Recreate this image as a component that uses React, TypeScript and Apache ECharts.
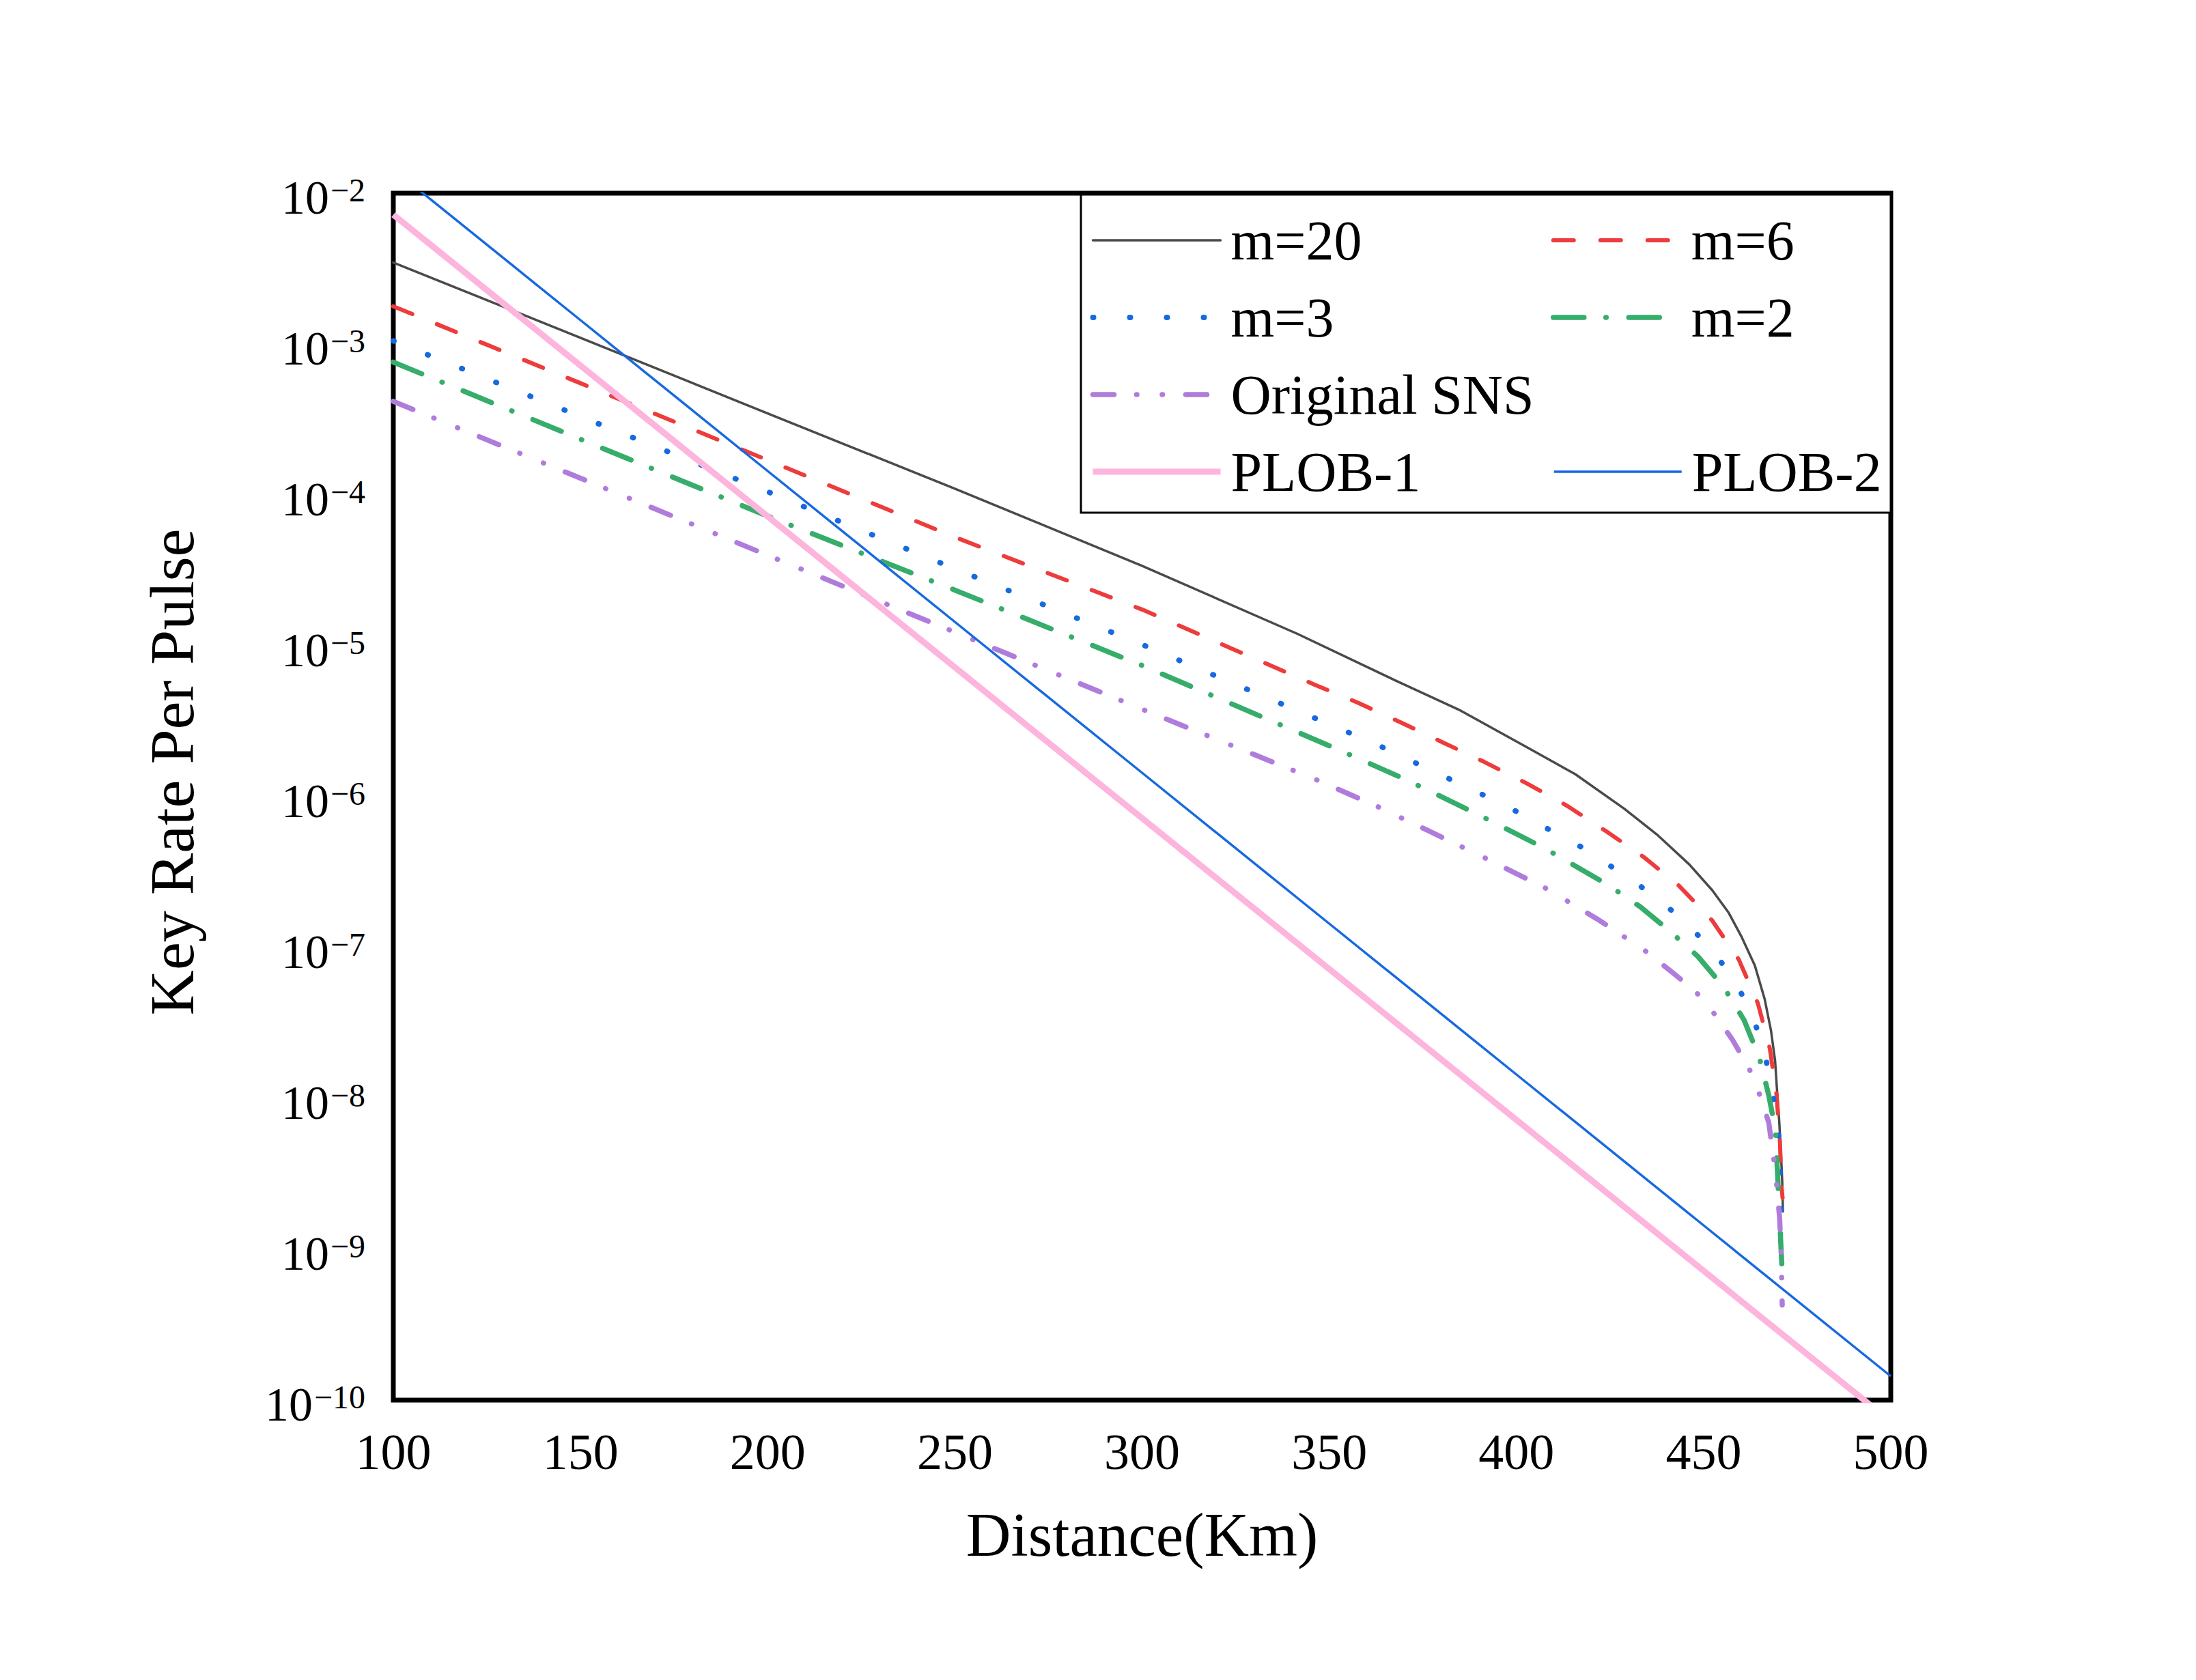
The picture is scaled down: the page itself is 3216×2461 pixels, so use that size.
import React, { useEffect, useRef } from 'react';
import * as echarts from 'echarts';

const FONT = '"Liberation Serif", "Times New Roman", serif';

const seriesNames = ['m=20', 'm=6', 'm=3', 'm=2', 'Original SNS', 'PLOB-1', 'PLOB-2'];

const m20Km = [100, 150, 200, 250, 300, 341.5, 367.7, 385.1, 402.6, 415.7, 428.8, 437.5, 446.2, 452.3, 456.7, 460.2, 463.7, 466.3, 468.0, 469.1, 469.6, 470.2, 470.7, 471.0, 471.2];
const m20Rate = [3.47e-3, 1.10e-3, 3.47e-4, 1.10e-4, 3.39e-5, 1.20e-5, 5.89e-6, 3.72e-6, 2.14e-6, 1.41e-6, 8.32e-7, 5.62e-7, 3.55e-7, 2.40e-7, 1.70e-7, 1.17e-7, 7.59e-8, 4.57e-8, 2.82e-8, 1.78e-8, 1.15e-8, 7.08e-9, 4.17e-9, 2.82e-9, 1.78e-9];

const m6Km = [100, 150, 200, 250, 300, 346.3, 357.9, 369.3, 380.3, 391.4, 402.6, 413.5, 424, 434, 443.4, 452.3, 459.4, 464.5, 467.7, 469.5, 470.4, 470.8, 471.1];
const m6Rate = [1.78e-3, 5.50e-4, 1.70e-4, 5.25e-5, 1.74e-5, 5.50e-6, 4.17e-6, 3.09e-6, 2.29e-6, 1.70e-6, 1.23e-6, 8.71e-7, 5.89e-7, 3.98e-7, 2.57e-7, 1.51e-7, 8.32e-8, 4.27e-8, 2.14e-8, 1.05e-8, 5.13e-9, 2.63e-9, 2.19e-9];

const m3Km = [100, 150, 200, 250, 300, 344.3, 362.3, 380.2, 398, 406.5, 415.2, 423.3, 431.3, 438.9, 445.9, 452.8, 458.8, 463.2, 466.2, 468.2, 469.6, 470.3, 470.6, 470.9];
const m3Rate = [1.05e-3, 3.31e-4, 1.05e-4, 3.24e-5, 1.02e-5, 3.47e-6, 2.24e-6, 1.38e-6, 8.51e-7, 6.46e-7, 5.01e-7, 3.72e-7, 2.75e-7, 2.0e-7, 1.41e-7, 9.33e-8, 5.75e-8, 3.47e-8, 2.04e-8, 1.20e-8, 7.08e-9, 5.01e-9, 2.51e-9, 1.26e-9];

const m2Km = [100, 150, 200, 250, 300, 351.6, 370.7, 389.1, 407.4, 424.8, 433.1, 440.9, 448.5, 455.3, 460.8, 464.9, 467.4, 469.2, 470.1, 470.7, 471.0];
const m2Rate = [7.59e-4, 2.34e-4, 7.24e-5, 2.34e-5, 7.41e-6, 2.09e-6, 1.29e-6, 7.76e-7, 4.57e-7, 2.57e-7, 1.86e-7, 1.29e-7, 8.71e-8, 5.50e-8, 3.31e-8, 1.86e-8, 1.05e-8, 6.17e-9, 2.09e-9, 1.0e-9, 7.08e-10];

const snsKm = [100, 150, 200, 250, 300, 346.7, 363.3, 377.7, 391.9, 408.1, 421.5, 434.3, 440.9, 447.8, 452.3, 457.7, 462.3, 464.9, 467.4, 468.8, 469.5, 470.3, 470.7, 471.0];
const snsRate = [4.17e-4, 1.29e-4, 3.98e-5, 1.23e-5, 3.80e-6, 1.29e-6, 8.51e-7, 5.75e-7, 3.89e-7, 2.45e-7, 1.55e-7, 9.55e-8, 7.08e-8, 5.13e-8, 3.80e-8, 2.45e-8, 1.55e-8, 1.07e-8, 6.92e-9, 3.89e-9, 2.69e-9, 1.62e-9, 1.0e-9, 4.27e-10];

const plobKm = [100, 150, 200, 250, 300, 350, 400, 450, 500];
const plob1Rate = [7.2e-3, 7.2e-4, 7.2e-5, 7.2e-6, 7.2e-7, 7.2e-8, 7.2e-9, 7.2e-10, 7.2e-11];
const plob2Rate = [1.44e-2, 1.44e-3, 1.44e-4, 1.44e-5, 1.44e-6, 1.44e-7, 1.44e-8, 1.44e-9, 1.44e-10];

const xTicks = { min: 100, max: 500, step: 50 };
const yRange = { min: 1e-10, max: 1e-2 };

const colors = {
  m20: '#4a4a4a',
  m6: '#ee3b3b',
  m3: '#1769e0',
  m2: '#36ad6a',
  sns: '#b07cdc',
  plob1: '#fdb4dd',
  plob2: '#1769e0',
};

const styles: Record<string, any> = {
  'm=20': { color: colors.m20, width: 3.5, type: 'solid', cap: 'round' },
  'm=6': { color: colors.m6, width: 6, type: [30, 39], cap: 'round' },
  'm=3': { color: colors.m3, width: 8, type: [1, 53], cap: 'round' },
  'm=2': { color: colors.m2, width: 7.5, type: [45, 32, 0.5, 33], cap: 'round' },
  'Original SNS': { color: colors.sns, width: 7.5, type: [31, 33, 0.5, 37, 0.5, 34], cap: 'round' },
  'PLOB-1': { color: colors.plob1, width: 9, type: 'solid', cap: 'butt' },
  'PLOB-2': { color: colors.plob2, width: 3.5, type: 'solid', cap: 'butt' },
};

const zip = (xs: number[], ys: number[]) => xs.map((x, i) => [x, ys[i]]);

const seriesData: Record<string, number[][]> = {
  'm=20': zip(m20Km, m20Rate),
  'm=6': zip(m6Km, m6Rate),
  'm=3': zip(m3Km, m3Rate),
  'm=2': zip(m2Km, m2Rate),
  'Original SNS': zip(snsKm, snsRate),
  'PLOB-1': zip(plobKm, plob1Rate),
  'PLOB-2': zip(plobKm, plob2Rate),
};

const legendText = {
  fontFamily: FONT,
  fontSize: 82,
  color: '#000',
  lineHeight: 90,
  padding: [0, 0, 0, 10],
};

const legendItem = (name: string) => ({
  name,
  lineStyle: { ...styles[name] },
  itemStyle: { opacity: 0 },
});

const legendBase = {
  orient: 'vertical',
  itemWidth: 187,
  itemHeight: 20,
  itemGap: 23,
  padding: 0,
  selectedMode: false,
  textStyle: legendText,
  z: 10,
};

export default function App() {
  const ref = useRef<HTMLDivElement>(null);
  useEffect(() => {
    document.body.style.margin = '0';
    const chart = echarts.init(ref.current!, null, { renderer: 'svg' });
    const option: any = {
      animation: false,
      backgroundColor: '#fff',
      grid: {
        show: true,
        left: 576,
        top: 283,
        right: 447,
        bottom: 410,
        borderColor: '#000',
        borderWidth: 7,
        backgroundColor: 'transparent',
        outerBoundsMode: 'none',
        containLabel: false,
      },
      xAxis: {
        type: 'value',
        min: xTicks.min,
        max: xTicks.max,
        interval: xTicks.step,
        axisLine: { show: false },
        axisTick: { show: false },
        splitLine: { show: false },
        axisLabel: { fontFamily: FONT, fontSize: 74, color: '#000', margin: 39 },
        name: 'Distance(Km)',
        nameLocation: 'middle',
        nameGap: 152,
        nameTextStyle: { fontFamily: FONT, fontSize: 91, color: '#000' },
      },
      yAxis: {
        type: 'log',
        logBase: 10,
        min: yRange.min,
        max: yRange.max,
        interval: 1,
        axisLine: { show: false },
        axisTick: { show: false },
        splitLine: { show: false },
        axisLabel: {
          margin: 41,
          padding: [12, 0, 0, 0],
          formatter: (v: number) => {
            const e = Math.round(Math.log10(v));
            return `{b|10}{s|\u2212${Math.abs(e)}}`;
          },
          rich: {
            b: { fontFamily: FONT, fontSize: 70, lineHeight: 70, color: '#000', verticalAlign: 'bottom', padding: [10, 0, 0, 0] },
            s: { fontFamily: FONT, fontSize: 48, lineHeight: 48, color: '#000', verticalAlign: 'top', padding: [0, 0, 0, 2] },
          },
        },
        name: 'Key Rate Per Pulse',
        nameLocation: 'middle',
        nameRotate: 90,
        nameGap: 278,
        nameTextStyle: { fontFamily: FONT, fontSize: 92, color: '#000', padding: [0, 0, 0, 72] },
      },
      legend: [
        { ...legendBase, left: 1596, top: 307, data: ['m=20', 'm=3', 'Original SNS', 'PLOB-1'].map(legendItem) },
        { ...legendBase, left: 2271, top: 307, data: ['m=6', 'm=2'].map(legendItem) },
        { ...legendBase, left: 2274, top: 646, data: ['PLOB-2'].map(legendItem) },
      ],
      graphic: [
        {
          type: 'rect',
          z: 5,
          shape: { x: 1583, y: 285, width: 1186, height: 466 },
          style: { fill: '#fff', stroke: '#000', lineWidth: 3 },
        },
      ],
      series: seriesNames.map((name) => ({
        name,
        type: 'line',
        data: seriesData[name],
        showSymbol: false,
        symbol: 'none',
        clip: true,
        smooth: false,
        z: name.startsWith('PLOB') ? 3 : 2,
        lineStyle: { ...styles[name], join: 'round' },
        itemStyle: { color: styles[name].color },
        emphasis: { disabled: true },
      })),
    };
    chart.setOption(option);
    return () => chart.dispose();
  }, []);
  return <div ref={ref} style={{ width: 3216, height: 2461 }} />;
}
